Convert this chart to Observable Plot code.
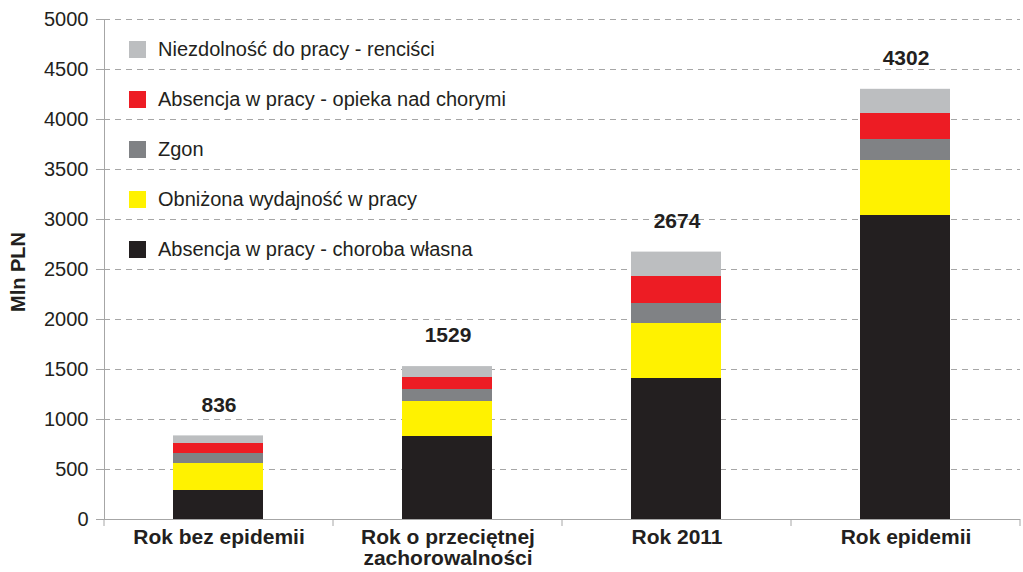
<!DOCTYPE html>
<html><head><meta charset="utf-8">
<script src="https://cdn.jsdelivr.net/npm/d3@7"></script>
<script src="https://cdn.jsdelivr.net/npm/@observablehq/plot@0.6"></script>
<style>
body{margin:0;background:#fff;}
#wrap{position:relative;width:1023px;height:572px;font-family:"Liberation Sans",Arial,sans-serif;color:#231f20;}
#wrap svg{position:absolute;left:0;top:0;}
.item{position:absolute;left:129px;height:24px;white-space:nowrap;font-size:20px;display:flex;align-items:center;}
.sw{width:17px;height:17px;margin-right:12px;flex:none;}
#ylab{position:absolute;left:18px;top:272px;transform:translate(-50%,-50%) rotate(-90deg);font-weight:bold;font-size:20px;white-space:nowrap;}
</style></head><body><div id="wrap"></div>
<script>
const categories = ["Rok bez epidemii", "Rok o przeciętnej zachorowalności", "Rok 2011", "Rok epidemii"];
const tickLabels = ["Rok bez epidemii", "Rok o przeciętnej\nzachorowalności", "Rok 2011", "Rok epidemii"];
// series listed bottom to top of the stack
const series = ["Absencja w pracy - choroba własna", "Obniżona wydajność w pracy", "Zgon", "Absencja w pracy - opieka nad chorymi", "Niezdolność do pracy - renciści"];
const colors = ["#231f20", "#fff200", "#808285", "#ed1c24", "#bcbec0"];
const chorobaWlasna = [290, 830, 1410, 3040];
const obnizonaWydajnosc = [270, 350, 550, 550];
const zgon = [100, 120, 200, 210];
const opieka = [100, 120, 270, 260];
const rencisci = [76, 109, 244, 242];
const totals = [836, 1529, 2674, 4302];
const yTicks = [0, 500, 1000, 1500, 2000, 2500, 3000, 3500, 4000, 4500, 5000];
const yLabel = "Mln PLN";

const seriesValues = [chorobaWlasna, obnizonaWydajnosc, zgon, opieka, rencisci];
const rows = [];
series.forEach((s, si) => categories.forEach((c, ci) => rows.push({cat: c, series: s, value: seriesValues[si][ci]})));
const totalRows = categories.map((c, i) => ({cat: c, total: totals[i]}));

const font = '"Liberation Sans", Arial, sans-serif';
const axisColor = "#a6a6a6";

const chart = Plot.plot({
  width: 1023, height: 572,
  marginLeft: 104, marginRight: 3, marginTop: 19, marginBottom: 53,
  style: {fontFamily: font, fontSize: "20px", color: "#231f20", background: "transparent"},
  x: {domain: categories, padding: 0, label: null},
  y: {domain: [0, 5000], label: null},
  color: {domain: series, range: colors},
  marks: [
    Plot.gridY(yTicks, {stroke: axisColor, strokeOpacity: 1, strokeDasharray: "6,5"}),
    Plot.barY(rows, {x: "cat", y: "value", fill: "series", order: series, insetLeft: 69, insetRight: 70}),
    Plot.text(totalRows, {x: "cat", y: "total", text: d => String(d.total), dy: -31, fontWeight: "bold", fontSize: 21}),
    Plot.axisY(yTicks, {tickSize: 8, tickPadding: 8, stroke: axisColor, fontSize: 20, label: null, tickFormat: d => String(d)}),
    Plot.axisX({tickSize: 0, tickPadding: 10, fontWeight: "bold", fontSize: 21, lineHeight: 1.0, label: null,
      tickFormat: d => tickLabels[categories.indexOf(d)]}),
    Plot.frame({anchor: "left", stroke: axisColor}),
    Plot.ruleY([0], {stroke: axisColor}),
    (index, scales, values, dims) => {
      const g = d3.create("svg:g").attr("stroke", axisColor);
      const xs = categories.map(c => scales.x(c)).concat([dims.width - dims.marginRight]);
      const y0 = scales.y(0);
      for (const x of xs) g.append("line").attr("x1", x).attr("x2", x).attr("y1", y0).attr("y2", y0 + 7);
      return g.node();
    }
  ]
});

const wrap = document.getElementById("wrap");
wrap.appendChild(chart);

// legend (top to bottom is reverse of stack order)
series.slice().reverse().forEach((s, i) => {
  const item = document.createElement("div");
  item.className = "item";
  item.style.top = (37 + 50 * i) + "px";
  const sw = document.createElement("div");
  sw.className = "sw";
  sw.style.background = colors[series.indexOf(s)];
  item.appendChild(sw);
  item.appendChild(document.createTextNode(s));
  wrap.appendChild(item);
});
const yl = document.createElement("div");
yl.id = "ylab";
yl.textContent = yLabel;
wrap.appendChild(yl);
</script></body></html>
